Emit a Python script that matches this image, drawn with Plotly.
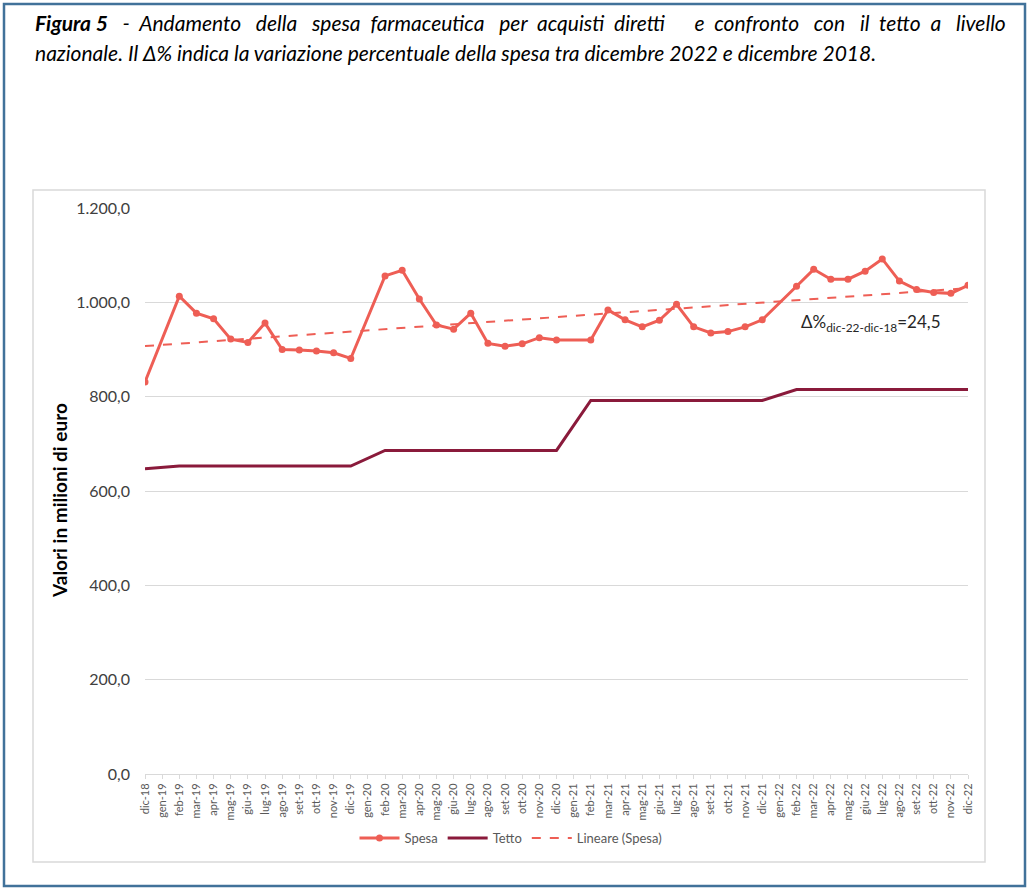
import numpy as np
import plotly.graph_objects as go

# ---- data ----
months = ["dic-18",
          "gen-19", "feb-19", "mar-19", "apr-19", "mag-19", "giu-19", "lug-19", "ago-19", "set-19", "ott-19", "nov-19", "dic-19",
          "gen-20", "feb-20", "mar-20", "apr-20", "mag-20", "giu-20", "lug-20", "ago-20", "set-20", "ott-20", "nov-20", "dic-20",
          "gen-21", "feb-21", "mar-21", "apr-21", "mag-21", "giu-21", "lug-21", "ago-21", "set-21", "ott-21", "nov-21", "dic-21",
          "gen-22", "feb-22", "mar-22", "apr-22", "mag-22", "giu-22", "lug-22", "ago-22", "set-22", "ott-22", "nov-22", "dic-22"]

spesa = [831,
         None, 1013, 977, 965, 922, 915, 956, 900, 899, 897, 893, 881,
         None, 1056, 1068, 1007, 952, 943, 977, 913, 907, 912, 925, 920,
         None, 920, 984, 963, 948, 962, 996, 948, 935, 938, 948, 963,
         None, 1034, 1070, 1049, 1049, 1066, 1092, 1045, 1027, 1021, 1019, 1036]

tetto = [647,
         None, 653, 653, 653, 653, 653, 653, 653, 653, 653, 653, 653,
         None, 686, 686, 686, 686, 686, 686, 686, 686, 686, 686, 686,
         None, 792, 792, 792, 792, 792, 792, 792, 792, 792, 792, 792,
         None, 815, 815, 815, 815, 815, 815, 815, 815, 815, 815, 815]

y_ticks = [0, 200, 400, 600, 800, 1000, 1200]
delta_label = "24,5"

title_line1_words = ["-", "Andamento", "della", "spesa", "farmaceutica", "per", "acquisti", "diretti",
                     "", "e", "confronto", "con", "il", "tetto", "a", "livello"]
title_line2 = "nazionale. Il Δ% indica la variazione percentuale della spesa tra dicembre 2022 e dicembre 2018."

# ---- linear trend of Spesa (least squares) ----
idx = np.arange(len(months))
mask = np.array([v is not None for v in spesa])
coef = np.polyfit(idx[mask], np.array([v for v in spesa if v is not None], dtype=float), 1)
trend = np.polyval(coef, idx)

# ---- colours / layout constants ----
C_SPESA = "#EE5E55"
C_TETTO = "#8A1A3B"
GRID = "#D9D9D9"
TXT = "#595959"
FONT = "Lato"

W, H = 1030, 892
L, R, T, B = 145, 1030 - 968, 208, 892 - 774
PW, PH = W - L - R, H - T - B

def px_x(p):
    return (p - L) / PW

def px_y(p):
    return (H - B - p) / PH

fig = go.Figure()
fig.add_trace(go.Scatter(x=months, y=spesa, name="Spesa", mode="lines+markers",
                         connectgaps=True,
                         line=dict(color=C_SPESA, width=3),
                         marker=dict(color=C_SPESA, size=7)))
fig.add_trace(go.Scatter(x=months, y=tetto, name="Tetto", mode="lines",
                         connectgaps=True,
                         line=dict(color=C_TETTO, width=3)))
fig.add_trace(go.Scatter(x=months, y=trend, name="Lineare (Spesa)", mode="lines",
                         line=dict(color=C_SPESA, width=2, dash="dash")))

fig.update_layout(
    width=W, height=H,
    margin=dict(l=L, r=R, t=T, b=B, autoexpand=False),
    paper_bgcolor="white", plot_bgcolor="white",
    separators=",.",
    font=dict(family=FONT, color=TXT),
    showlegend=True,
    legend=dict(orientation="h", x=px_x(511), xanchor="center",
                y=px_y(838), yanchor="middle",
                font=dict(size=13, color=TXT, family=FONT),
                itemwidth=40, bgcolor="rgba(0,0,0,0)"),
    xaxis=dict(type="category", range=[0, len(months) - 1],
               tickangle=-90, tickfont=dict(size=11, color=TXT, family=FONT),
               showgrid=False, showline=True, linecolor=GRID, linewidth=1,
               ticks="outside", ticklen=4, tickcolor=GRID, fixedrange=True),
    yaxis=dict(range=[0, 1200], tickvals=y_ticks, tickformat=",.1f",
               tickfont=dict(size=16, color="#404040", family=FONT),
               showgrid=True, gridcolor=GRID, gridwidth=1,
               zeroline=False, showline=False, ticks="", ticklabelstandoff=14),
)

# outer figure frame
fig.add_shape(type="rect", xref="paper", yref="paper",
              x0=px_x(4), x1=px_x(1025), y0=px_y(886), y1=px_y(4),
              line=dict(color="#41729A", width=2.5), layer="below")
# chart area box
fig.add_shape(type="rect", xref="paper", yref="paper",
              x0=px_x(33), x1=px_x(985), y0=px_y(862), y1=px_y(190),
              line=dict(color=GRID, width=1.5), layer="below")

# title (line 1 roughly justified with extra spaces)
space_counts = [3, 2, 3, 3, 2, 3, 2, 2, 3, 3, 2, 3, 3, 2, 2, 3]
line1 = "<b><i>Figura 5</i></b><i>"
for w, n in zip(title_line1_words, space_counts):
    line1 += " " + "&nbsp;" * (n - 1) + w
line1 += "</i>"
fig.add_annotation(xref="paper", yref="paper", x=px_x(33), y=px_y(22),
                   xanchor="left", yanchor="middle", showarrow=False, align="left",
                   text=line1,
                   font=dict(size=21, color="#000000", family=FONT))
fig.add_annotation(xref="paper", yref="paper", x=px_x(33), y=px_y(52),
                   xanchor="left", yanchor="middle", showarrow=False, align="left",
                   text="<i>" + title_line2 + "</i>",
                   font=dict(size=21, color="#000000", family=FONT))

# y-axis title
fig.add_annotation(xref="paper", yref="paper", x=px_x(59), y=px_y(501),
                   xanchor="center", yanchor="middle", showarrow=False, textangle=-90,
                   text="<b>Valori in milioni di euro</b>",
                   font=dict(size=19, color="#000000", family=FONT))

# delta annotation
fig.add_annotation(xref="paper", yref="paper", x=px_x(799), y=px_y(323),
                   xanchor="left", yanchor="middle", showarrow=False,
                   text="Δ%<sub>dic-22-dic-18</sub>=" + delta_label,
                   font=dict(size=17, color="#262626", family=FONT))

fig.write_html("out.html", post_script="document.body.style.margin='0';",
               config={"displayModeBar": False})
